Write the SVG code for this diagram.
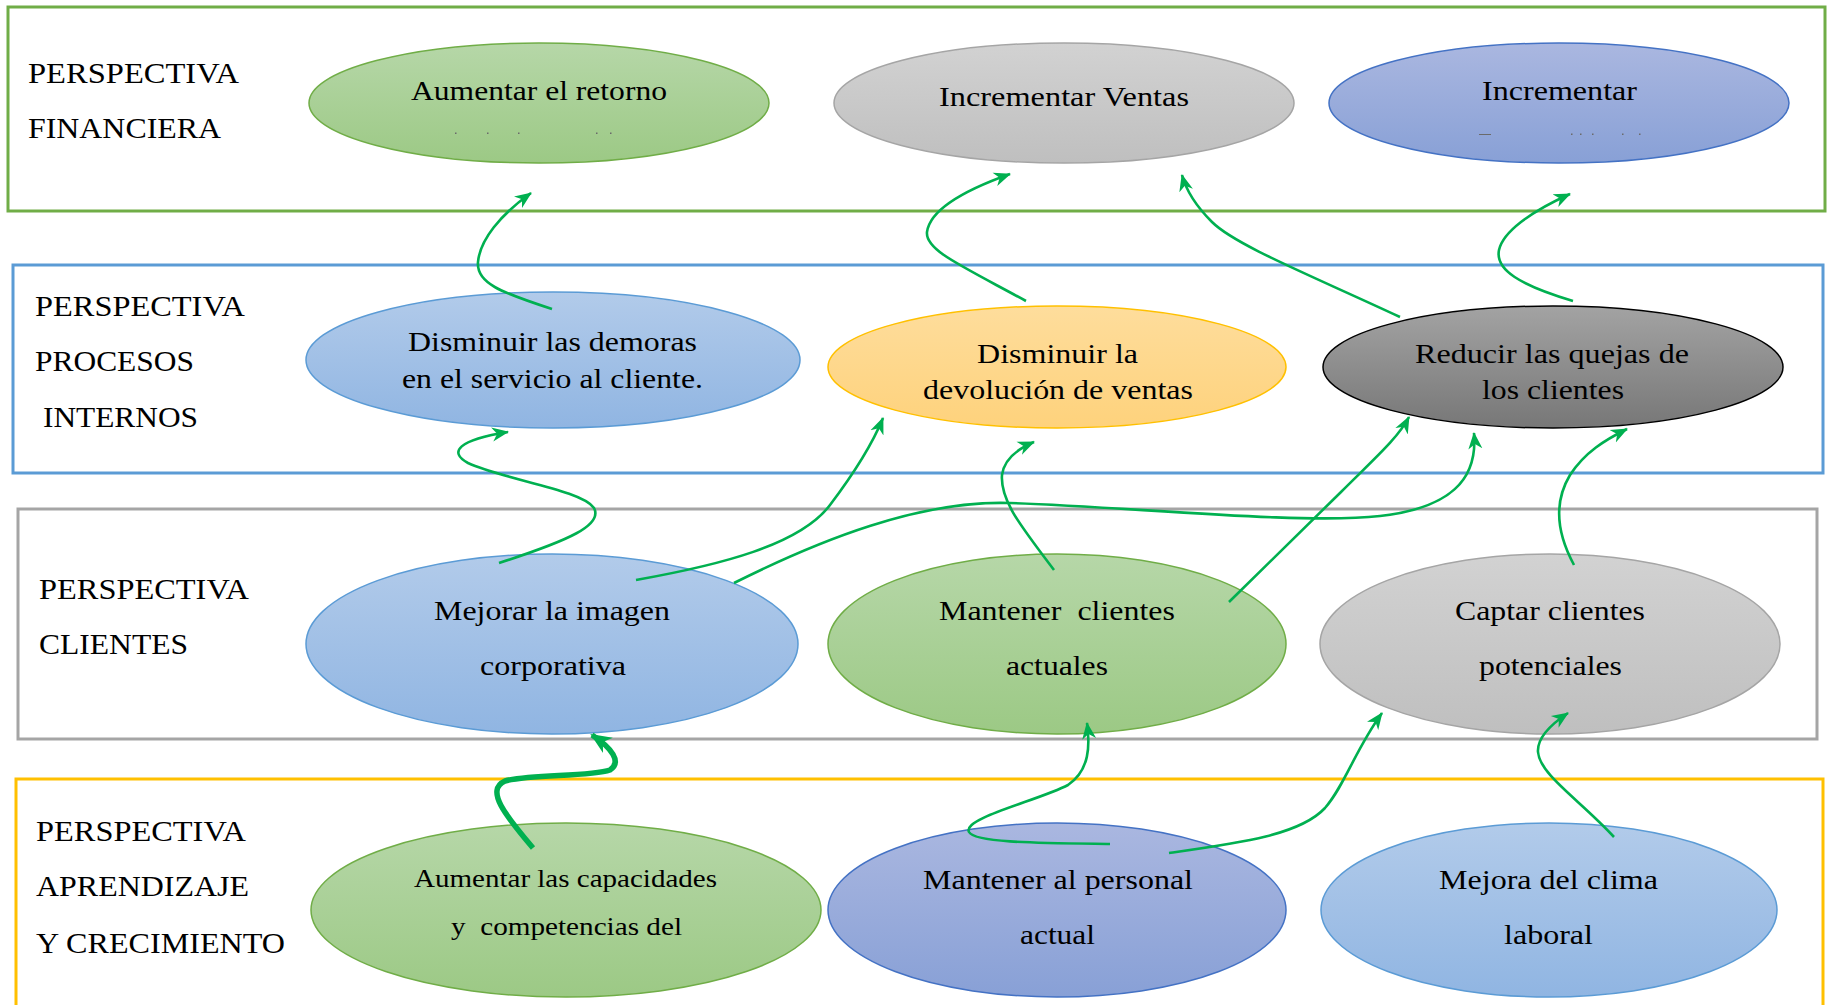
<svg xmlns="http://www.w3.org/2000/svg" width="1829" height="1005" viewBox="0 0 1829 1005">
<style>
  .box { fill: none; stroke-width: 3; }
  .lbl { font-family: "Liberation Serif", "Times New Roman", serif; font-size: 29px; fill: #000; }
  .txt { font-family: "Liberation Serif", "Times New Roman", serif; font-size: 28px; fill: #000; }
  .txs { font-family: "Liberation Serif", "Times New Roman", serif; font-size: 25px; fill: #000; }
  .conn { fill: none; stroke: #00b050; stroke-width: 2.6; stroke-linecap: butt; }
  .thick { fill: none; stroke: #00b050; stroke-width: 5.5; }
  .dot { fill: #6a6a6a; }
</style>
<defs>
  <linearGradient id="gGreen" x1="0" y1="0" x2="0" y2="1"><stop offset="0" stop-color="#b6d7a8"/><stop offset="1" stop-color="#9cc985"/></linearGradient>
  <linearGradient id="gGray" x1="0" y1="0" x2="0" y2="1"><stop offset="0" stop-color="#d2d2d2"/><stop offset="1" stop-color="#bfbfbf"/></linearGradient>
  <linearGradient id="gBlue" x1="0" y1="0" x2="0" y2="1"><stop offset="0" stop-color="#aab7e0"/><stop offset="1" stop-color="#88a0d6"/></linearGradient>
  <linearGradient id="gLBlue" x1="0" y1="0" x2="0" y2="1"><stop offset="0" stop-color="#b2cbea"/><stop offset="1" stop-color="#90b5e2"/></linearGradient>
  <linearGradient id="gOrange" x1="0" y1="0" x2="0" y2="1"><stop offset="0" stop-color="#fedd9c"/><stop offset="1" stop-color="#fed27c"/></linearGradient>
  <linearGradient id="gDark" x1="0" y1="0" x2="0" y2="1"><stop offset="0" stop-color="#a3a3a3"/><stop offset="1" stop-color="#777777"/></linearGradient>
  <marker id="arr" markerUnits="userSpaceOnUse" markerWidth="18" markerHeight="16" viewBox="0 0 18 16" refX="16" refY="8" orient="auto">
    <path d="M0,1 L17,8 L0,15 L5,8 Z" fill="#00b050"/>
  </marker>
  <marker id="arrT" markerUnits="userSpaceOnUse" markerWidth="22" markerHeight="20" viewBox="0 0 22 20" refX="19" refY="10" orient="auto">
    <path d="M0,1 L21,10 L0,19 L6,10 Z" fill="#00b050"/>
  </marker>
</defs>

<g id="perspectivas">
  <g id="persp-financiera">
    <rect class="box" x="8" y="7" width="1817" height="204" stroke="#70ad47"/>
    <text class="lbl" x="28" y="83" textLength="211" lengthAdjust="spacingAndGlyphs">PERSPECTIVA</text>
    <text class="lbl" x="28" y="138" textLength="193" lengthAdjust="spacingAndGlyphs">FINANCIERA</text>
  </g>
  <g id="persp-procesos">
    <rect class="box" x="13" y="265" width="1810" height="208" stroke="#5b9bd5"/>
    <text class="lbl" x="35" y="316" textLength="210" lengthAdjust="spacingAndGlyphs">PERSPECTIVA</text>
    <text class="lbl" x="35" y="371" textLength="159" lengthAdjust="spacingAndGlyphs">PROCESOS</text>
    <text class="lbl" x="43" y="427" textLength="155" lengthAdjust="spacingAndGlyphs">INTERNOS</text>
  </g>
  <g id="persp-clientes">
    <rect class="box" x="18" y="509" width="1799" height="230" stroke="#a5a5a5"/>
    <text class="lbl" x="39" y="599" textLength="210" lengthAdjust="spacingAndGlyphs">PERSPECTIVA</text>
    <text class="lbl" x="39" y="654" textLength="149" lengthAdjust="spacingAndGlyphs">CLIENTES</text>
  </g>
  <g id="persp-aprendizaje">
    <rect class="box" x="16" y="779" width="1807" height="240" stroke="#ffc000"/>
    <text class="lbl" x="36" y="841" textLength="210" lengthAdjust="spacingAndGlyphs">PERSPECTIVA</text>
    <text class="lbl" x="36" y="896" textLength="213" lengthAdjust="spacingAndGlyphs">APRENDIZAJE</text>
    <text class="lbl" x="36" y="953" textLength="249" lengthAdjust="spacingAndGlyphs">Y CRECIMIENTO</text>
  </g>
</g>

<g id="n1">
  <ellipse cx="539" cy="103" rx="230" ry="60" fill="url(#gGreen)" stroke="#70ad47" stroke-width="1.5"/>
  <text class="txt" x="411" y="100" textLength="256" lengthAdjust="spacingAndGlyphs">Aumentar el retorno</text>
  <rect class="dot" x="455" y="132.5" width="1.5" height="1.5"/>
  <rect class="dot" x="487" y="132.5" width="1.5" height="1.5"/>
  <rect class="dot" x="518" y="132.5" width="1.5" height="1.5"/>
  <rect class="dot" x="596" y="132.5" width="1.5" height="1.5"/>
  <rect class="dot" x="610" y="132.5" width="1.5" height="1.5"/>
</g>
<g id="n2">
  <ellipse cx="1064" cy="103" rx="230" ry="60" fill="url(#gGray)" stroke="#a5a5a5" stroke-width="1.5"/>
  <text class="txt" x="939" y="106" textLength="250" lengthAdjust="spacingAndGlyphs">Incrementar Ventas</text>
</g>
<g id="n3">
  <ellipse cx="1559" cy="103" rx="230" ry="60" fill="url(#gBlue)" stroke="#4472c4" stroke-width="1.5"/>
  <text class="txt" x="1482" y="100" textLength="155" lengthAdjust="spacingAndGlyphs">Incrementar</text>
  <rect class="dot" x="1479" y="134" width="12" height="1"/>
  <rect class="dot" x="1571" y="133.5" width="1.5" height="1.5"/>
  <rect class="dot" x="1580" y="133.5" width="1.5" height="1.5"/>
  <rect class="dot" x="1592" y="133.5" width="1.5" height="1.5"/>
  <rect class="dot" x="1622" y="133.5" width="1.5" height="1.5"/>
  <rect class="dot" x="1639" y="133.5" width="1.5" height="1.5"/>
</g>

<g id="n4">
  <ellipse cx="553" cy="360" rx="247" ry="68" fill="url(#gLBlue)" stroke="#5b9bd5" stroke-width="1.5"/>
  <text class="txt" x="408" y="351" textLength="289" lengthAdjust="spacingAndGlyphs">Disminuir las demoras</text>
  <text class="txt" x="402" y="388" textLength="301" lengthAdjust="spacingAndGlyphs">en el servicio al cliente.</text>
</g>
<g id="n5">
  <ellipse cx="1057" cy="367" rx="229" ry="61" fill="url(#gOrange)" stroke="#ffc000" stroke-width="1.5"/>
  <text class="txt" x="977" y="363" textLength="161" lengthAdjust="spacingAndGlyphs">Disminuir la</text>
  <text class="txt" x="923" y="399" textLength="270" lengthAdjust="spacingAndGlyphs">devolución de ventas</text>
</g>
<g id="n6">
  <ellipse cx="1553" cy="367" rx="230" ry="61" fill="url(#gDark)" stroke="#000" stroke-width="1.5"/>
  <text class="txt" x="1415" y="363" textLength="274" lengthAdjust="spacingAndGlyphs">Reducir las quejas de</text>
  <text class="txt" x="1482" y="399" textLength="142" lengthAdjust="spacingAndGlyphs">los clientes</text>
</g>

<g id="n7">
  <ellipse cx="552" cy="644" rx="246" ry="90" fill="url(#gLBlue)" stroke="#5b9bd5" stroke-width="1.5"/>
  <text class="txt" x="434" y="620" textLength="236" lengthAdjust="spacingAndGlyphs">Mejorar la imagen</text>
  <text class="txt" x="480" y="675" textLength="146" lengthAdjust="spacingAndGlyphs">corporativa</text>
</g>
<g id="n8">
  <ellipse cx="1057" cy="644" rx="229" ry="90" fill="url(#gGreen)" stroke="#70ad47" stroke-width="1.5"/>
  <text class="txt" x="939" y="620" textLength="236" lengthAdjust="spacingAndGlyphs" xml:space="preserve">Mantener  clientes</text>
  <text class="txt" x="1006" y="675" textLength="102" lengthAdjust="spacingAndGlyphs">actuales</text>
</g>
<g id="n9">
  <ellipse cx="1550" cy="644" rx="230" ry="90" fill="url(#gGray)" stroke="#a5a5a5" stroke-width="1.5"/>
  <text class="txt" x="1455" y="620" textLength="190" lengthAdjust="spacingAndGlyphs">Captar clientes</text>
  <text class="txt" x="1479" y="675" textLength="143" lengthAdjust="spacingAndGlyphs">potenciales</text>
</g>

<g id="n10">
  <ellipse cx="566" cy="910" rx="255" ry="87" fill="url(#gGreen)" stroke="#70ad47" stroke-width="1.5"/>
  <text class="txs" x="414" y="887" textLength="303" lengthAdjust="spacingAndGlyphs">Aumentar las capacidades</text>
  <text class="txs" x="451" y="935" textLength="231" lengthAdjust="spacingAndGlyphs" xml:space="preserve">y  competencias del</text>
</g>
<g id="n11">
  <ellipse cx="1057" cy="910" rx="229" ry="87" fill="url(#gBlue)" stroke="#4472c4" stroke-width="1.5"/>
  <text class="txt" x="923" y="889" textLength="270" lengthAdjust="spacingAndGlyphs">Mantener al personal</text>
  <text class="txt" x="1020" y="944" textLength="75" lengthAdjust="spacingAndGlyphs">actual</text>
</g>
<g id="n12">
  <ellipse cx="1549" cy="910" rx="228" ry="87" fill="url(#gLBlue)" stroke="#5b9bd5" stroke-width="1.5"/>
  <text class="txt" x="1439" y="889" textLength="219" lengthAdjust="spacingAndGlyphs">Mejora del clima</text>
  <text class="txt" x="1504" y="944" textLength="89" lengthAdjust="spacingAndGlyphs">laboral</text>
</g>

<g id="connectors">
  <path class="conn" marker-end="url(#arr)" d="M552,309 C500,292 476,283 478,262 C480,240 500,215 531,193"/>
  <path class="conn" marker-end="url(#arr)" d="M1026,301 C960,265 925,250 927,232 C930,210 965,190 1010,174"/>
  <path class="conn" marker-end="url(#arr)" d="M1400,317 C1310,275 1235,245 1212,222 C1195,205 1186,190 1182,175"/>
  <path class="conn" marker-end="url(#arr)" d="M1573,301 C1520,285 1495,270 1499,250 C1503,232 1530,212 1570,194"/>
  <path class="conn" marker-end="url(#arr)" d="M499,563 C570,540 603,525 594,508 C582,490 505,480 468,463 C448,452 458,440 508,432"/>
  <path class="conn" marker-end="url(#arr)" d="M636,580 C720,565 800,545 830,505 C855,472 872,445 883,418"/>
  <path class="conn" marker-end="url(#arr)" d="M734,583 C820,540 920,500 1010,503 C1120,506 1300,525 1380,516 C1450,508 1478,480 1474,433"/>
  <path class="conn" marker-end="url(#arr)" d="M1054,570 C1020,525 1000,500 1002,475 C1004,460 1015,450 1034,442"/>
  <path class="conn" marker-end="url(#arr)" d="M1229,602 L1341,492 C1375,458 1398,438 1409,417"/>
  <path class="conn" marker-end="url(#arr)" d="M1574,565 C1555,530 1555,500 1570,475 C1585,452 1605,440 1627,429"/>
  <path class="thick" marker-end="url(#arrT)" d="M533,848 C505,815 485,790 505,781 C530,774 590,777 610,770 C622,762 612,748 592,735"/>
  <path class="conn" marker-end="url(#arr)" d="M1110,844 C1040,843 975,843 969,832 C962,818 1040,800 1068,785 C1090,770 1090,745 1087,723"/>
  <path class="conn" marker-end="url(#arr)" d="M1169,853 C1240,843 1300,835 1325,808 C1345,785 1355,750 1382,713"/>
  <path class="conn" marker-end="url(#arr)" d="M1614,837 C1580,800 1540,775 1538,752 C1537,738 1550,725 1568,713"/>
</g>
</svg>
